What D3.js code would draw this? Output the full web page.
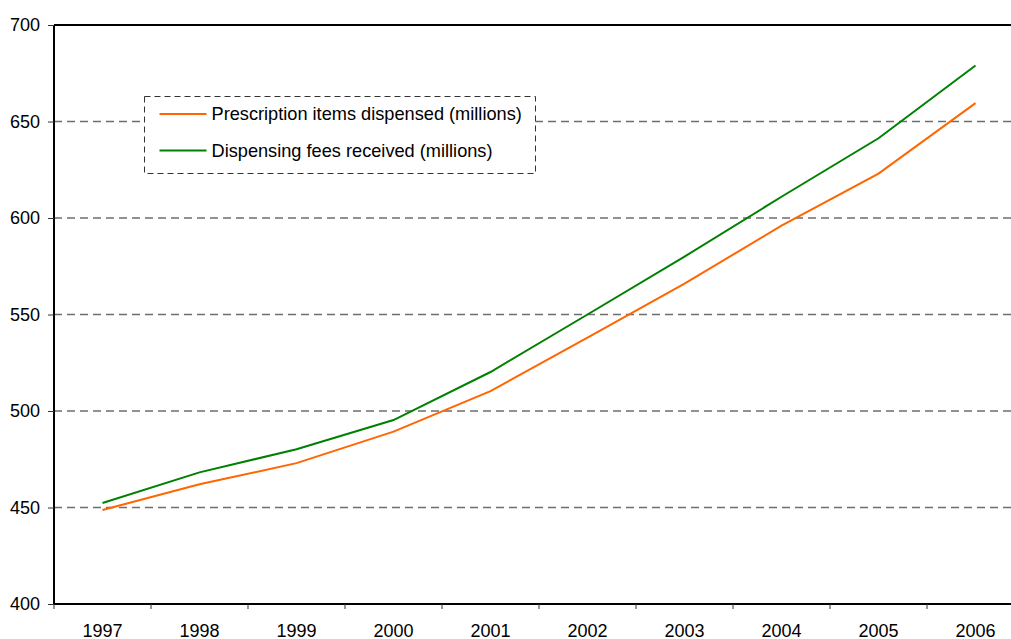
<!DOCTYPE html>
<html>
<head>
<meta charset="utf-8">
<script src="https://cdn.jsdelivr.net/npm/d3@7"></script>
<style>
  html, body { margin: 0; padding: 0; background: #fff; }
  svg { display: block; font-family: "Liberation Sans", Arial, sans-serif; }
</style>
</head>
<body>
<div class="container"></div>
<script>
const years = ["1997", "1998", "1999", "2000", "2001", "2002", "2003", "2004", "2005", "2006"];
const itemsDispensed = [448.7, 462, 473, 489.3, 510.3, 538, 566, 596, 623, 659.5];
const feesReceived = [452.3, 468.2, 480.2, 495.3, 520.2, 550, 580, 611, 641.3, 679];
const yTicks = [400, 450, 500, 550, 600, 650, 700];
const seriesNames = ["Prescription items dispensed (millions)", "Dispensing fees received (millions)"];
const seriesColors = ["#ff6600", "#008000"];

const margin = { top: 25, right: -13, bottom: 35, left: 54 };
const width = 1011;
const height = 639;
const innerWidth = width - (margin.left + margin.right);
const innerHeight = height - (margin.top + margin.bottom);

let svg = d3.select(".container").append("svg")
  .attr("width", width).attr("height", height);

let g = svg.append("g")
  .attr("transform", `translate(${margin.left}, ${margin.top})`);

// Scales
let xScale = d3.scaleBand(years, [0, innerWidth]).padding(0);
let yScale = d3.scaleLinear([400, 700], [innerHeight, 0]);
let xMid = (d) => xScale(d) + xScale.bandwidth() / 2;

// Gridlines
g.append("g").selectAll("line")
  .data(yTicks.filter((t) => t > 400 && t < 700)).enter().append("line")
  .attr("x1", 0).attr("x2", innerWidth)
  .attr("y1", (d) => yScale(d)).attr("y2", (d) => yScale(d))
  .attr("stroke", "#6e6e6e").attr("stroke-width", 1.4)
  .attr("stroke-dasharray", "8,5");

// Top frame line
g.append("line")
  .attr("x1", 0).attr("x2", innerWidth)
  .attr("y1", 0).attr("y2", 0)
  .attr("stroke", "#000").attr("stroke-width", 2);

// Axes
let yAxis = d3.axisLeft(yScale).tickValues(yTicks).tickSize(6).tickPadding(8);
let xAxis = d3.axisBottom(xScale).tickSize(0).tickPadding(20);

let gy = g.append("g").call(yAxis);
gy.select(".domain").attr("stroke", "#000").attr("stroke-width", 2).attr("d", `M0,0V${innerHeight}`);
gy.selectAll(".tick line").attr("stroke", "#333");
gy.selectAll("text").attr("font-size", 18).attr("fill", "#000").attr("font-family", "Liberation Sans, Arial, sans-serif");

let gx = g.append("g").attr("transform", `translate(0, ${innerHeight})`).call(xAxis);
gx.select(".domain").attr("stroke", "#000").attr("stroke-width", 2).attr("d", `M0,0H${innerWidth}`);
gx.selectAll("text").attr("font-size", 18).attr("fill", "#000").attr("font-family", "Liberation Sans, Arial, sans-serif");

// band boundary ticks
g.append("g").selectAll("line")
  .data(years).enter().append("line")
  .attr("x1", (d) => xScale(d)).attr("x2", (d) => xScale(d))
  .attr("y1", innerHeight).attr("y2", innerHeight + 5)
  .attr("stroke", "#333").attr("stroke-width", 1);

// Lines
let line = d3.line().x((d, i) => xMid(years[i])).y((d) => yScale(d));
[itemsDispensed, feesReceived].forEach((series, k) => {
  g.append("path")
    .attr("d", line(series))
    .attr("fill", "none")
    .attr("stroke", seriesColors[k])
    .attr("stroke-width", 2);
});

// Legend
let legend = svg.append("g").attr("transform", "translate(144.5, 96.5)");
legend.append("rect")
  .attr("width", 391).attr("height", 77)
  .attr("fill", "#fff").attr("stroke", "#333").attr("stroke-width", 1)
  .attr("stroke-dasharray", "6,4");
seriesNames.forEach((name, k) => {
  let row = legend.append("g").attr("transform", `translate(0, ${17.5 + k * 36.5})`);
  row.append("line").attr("x1", 15).attr("x2", 62)
    .attr("stroke", seriesColors[k]).attr("stroke-width", 2);
  row.append("text").attr("x", 67).attr("y", 6)
    .attr("font-size", 18.2).attr("fill", "#000").text(name);
});
</script>
</body>
</html>
